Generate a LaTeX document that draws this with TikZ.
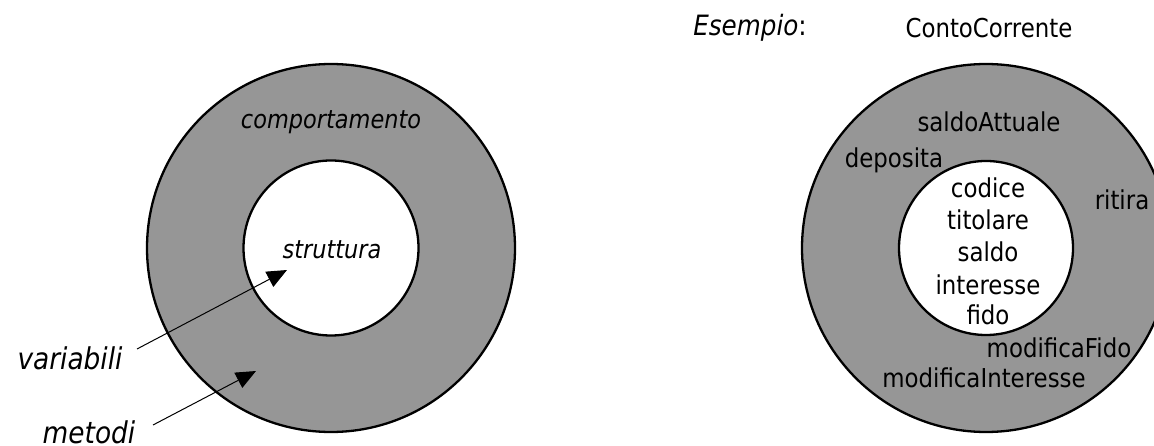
\documentclass[tikz,border=0pt]{standalone}
\usepackage{fontspec}
\setmainfont[FakeStretch=0.88]{DejaVu Sans}
\usetikzlibrary{arrows.meta}
\definecolor{ringgray}{RGB}{150,150,150}
\begin{document}
\begin{tikzpicture}[x=1pt,y=-1pt,
  ring/.style={draw=black,line width=2.3pt,fill=ringgray},
  hole/.style={draw=black,line width=2.3pt,fill=white},
  lbl/.style={inner sep=0pt,font=\fontsize{26}{31}\selectfont},
  ilbl/.style={inner sep=0pt,font=\fontsize{25.5}{30}\selectfont\itshape},
  biglbl/.style={inner sep=0pt,font=\fontsize{30}{35}\selectfont\itshape},
  ptr/.style={draw=black,line width=1pt,-{Triangle[length=20pt,width=17pt]}}
]
\useasboundingbox (0,0) rectangle (1154,446);
% left diagram
\path[ring] (331,248) circle (184);
\path[hole] (331,248) circle (87.5);
\node[ilbl] (comp) at (331,122) {comportamento};
\node[ilbl] (strut) at (332,250) {struttura};
\node[biglbl] (var) at (70,358) {variabili};
\node[biglbl] (met) at (89,432) {metodi};
\coordinate (varstart) at (137,349);
\coordinate (vartip) at (287,270);
\coordinate (metstart) at (153,425);
\coordinate (mettip) at (256,371);
\draw[ptr] (varstart) -- (vartip);
\draw[ptr] (metstart) -- (mettip);
% right diagram
\begin{scope}
\clip (0,0) rectangle (1154,446);
\path[ring] (986,248) circle (184);
\end{scope}
\path[hole] (986,248) circle (87);
\node[inner sep=0pt,font=\fontsize{28}{33}\selectfont] (es) at (750,28) {\textit{Esempio}:};
\node[lbl] (cc) at (989,28) {ContoCorrente};
\node[lbl] (sa) at (989,122) {saldoAttuale};
\node[lbl] (dep) at (894,160) {deposita};
\node[lbl] (rit) at (1122,200) {ritira};
\node[lbl] (cod) at (988,188) {codice};
\node[lbl] (tit) at (988,220) {titolare};
\node[lbl] (sal) at (988,252) {saldo};
\node[lbl] (int) at (988,285) {interesse};
\node[lbl] (fid) at (988,315) {fido};
\node[lbl] (mf) at (1059,348) {modificaFido};
\node[lbl] (mi) at (984,378) {modificaInteresse};
\end{tikzpicture}
\end{document}
